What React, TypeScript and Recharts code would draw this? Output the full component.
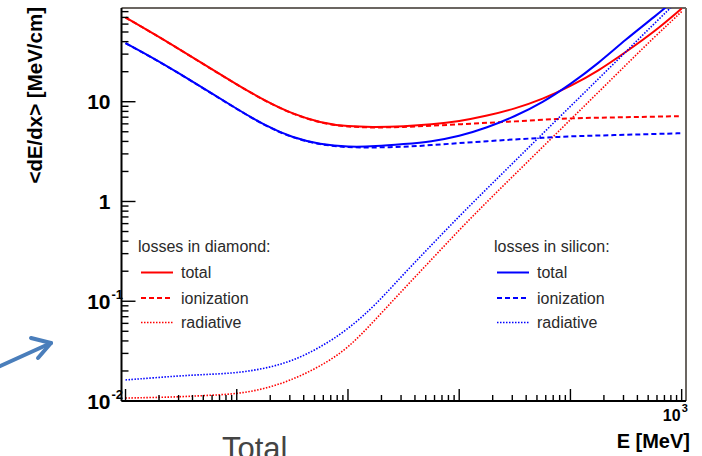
import React from 'react';
import { LineChart, Line, XAxis, YAxis, ReferenceLine } from 'recharts';

const FONT = '"Liberation Sans", Arial, Helvetica, sans-serif';

// Electron energy [MeV]
const energies = [0.01, 0.0178, 0.0316, 0.0562, 0.1, 0.178, 0.316, 0.562, 1, 1.78, 3.16, 5.62, 10, 17.8, 31.6, 56.2, 100, 178, 316, 562, 1000];

// <dE/dx> [MeV/cm]
const diamondTotal = [69.9, 48.3, 32.8, 22.1, 14.9, 10.26, 7.55, 6.15, 5.62, 5.56, 5.67, 5.91, 6.35, 7.22, 8.5, 10.6, 14.25, 20.3, 31.6, 49.7, 86];
const diamondIonization = [69.8, 48.2, 32.7, 22.0, 14.85, 10.22, 7.52, 6.12, 5.58, 5.5, 5.57, 5.75, 5.94, 6.14, 6.35, 6.59, 6.84, 6.91, 7.0, 7.08, 7.17];
const diamondRadiative = [0.0107, 0.01084, 0.01102, 0.0114, 0.01176, 0.0132, 0.0163, 0.0222, 0.0335, 0.0662, 0.1323, 0.2607, 0.519, 0.995, 1.87, 3.51, 6.61, 12.43, 23.4, 44.0, 80];
const siliconTotal = [38.7, 27.4, 18.75, 12.6, 8.49, 5.79, 4.36, 3.74, 3.51, 3.57, 3.76, 3.98, 4.5, 5.49, 7.12, 9.82, 14.96, 24.2, 42.4, 70, 120];
const siliconIonization = [38.6, 27.3, 18.7, 12.55, 8.46, 5.77, 4.34, 3.71, 3.47, 3.48, 3.52, 3.67, 3.85, 4.02, 4.19, 4.35, 4.51, 4.58, 4.66, 4.75, 4.83];
const siliconRadiative = [0.01626, 0.01707, 0.01792, 0.01851, 0.0191, 0.02107, 0.0251, 0.0343, 0.0522, 0.0922, 0.1873, 0.3646, 0.712, 1.348, 2.535, 4.78, 8.99, 16.9, 31.8, 60.1, 112];

const X_DOMAIN: [number, number] = [0.0092, 1094];
const Y_DOMAIN: [number, number] = [0.01, 87];

const xDecades = [0.01, 0.1, 1, 10, 100];
const yDecades = [0.01, 0.1, 1, 10];
const minorMultipliers = [2, 3, 4, 5, 6, 7, 8, 9];

const xLabelValues = [1000];
const xLabelBase = ['10'];
const xLabelExp = ['3'];

const yLabelValues = [0.01, 0.1, 1, 10];
const yLabelBase = ['10', '10', '1', '10'];
const yLabelExp = ['-2', '-1', '', ''];

const legendGroups = ['losses in diamond:', 'losses in silicon:'];
const legendEntries = ['total', 'ionization', 'radiative'];

const RED = '#ff0000';
const BLUE = '#0000ff';

const series = [
  { key: 'dTot', name: 'diamond total', values: diamondTotal, color: RED, dash: undefined as string | undefined, width: 2 },
  { key: 'dIon', name: 'diamond ionization', values: diamondIonization, color: RED, dash: '5 3', width: 2 },
  { key: 'dRad', name: 'diamond radiative', values: diamondRadiative, color: RED, dash: '1.5 1.5', width: 1.6 },
  { key: 'sTot', name: 'silicon total', values: siliconTotal, color: BLUE, dash: undefined as string | undefined, width: 2 },
  { key: 'sIon', name: 'silicon ionization', values: siliconIonization, color: BLUE, dash: '5 3', width: 2 },
  { key: 'sRad', name: 'silicon radiative', values: siliconRadiative, color: BLUE, dash: '1.5 1.5', width: 1.6 },
];

const data = energies.map((E, i) => {
  const row: Record<string, number> = { E };
  series.forEach((s) => {
    row[s.key] = s.values[i];
  });
  return row;
});

const buildTicks = (decades: number[], last: number[]) => {
  const out: number[] = [];
  decades.forEach((d) => {
    out.push(d);
    minorMultipliers.forEach((m) => {
      out.push(+(d * m).toPrecision(6));
    });
  });
  last.forEach((v) => out.push(v));
  return out;
};

const xTicks = buildTicks(xDecades, [1000]);
const yTicks = buildTicks(yDecades, []).filter((v) => v <= Y_DOMAIN[1]);

const isMajor = (v: number) => {
  const l = Math.log10(v);
  return Math.abs(l - Math.round(l)) < 1e-6;
};

const XTick = (props: any) => {
  const { x, y, payload } = props;
  const v = payload.value;
  const major = isMajor(v);
  const idx = xLabelValues.indexOf(v);
  return (
    <g>
      <line x1={x} x2={x} y1={y} y2={y - (major ? 12 : 6)} stroke="#000" strokeWidth={1.4} />
      {idx >= 0 && (
        <g fontFamily={FONT} fontWeight="bold" fill="#000">
          <text x={x - 1} y={y + 20} textAnchor="end" fontSize={16}>
            {xLabelBase[idx]}
          </text>
          <text x={x} y={y + 11} textAnchor="start" fontSize={11}>
            {xLabelExp[idx]}
          </text>
        </g>
      )}
    </g>
  );
};

const YTick = (props: any) => {
  const { x, y, payload } = props;
  const v = payload.value;
  const major = isMajor(v);
  const idx = yLabelValues.findIndex((t) => Math.abs(t - v) < 1e-9);
  return (
    <g>
      <line x1={x} x2={x + (major ? 14 : 7)} y1={y} y2={y} stroke="#000" strokeWidth={1.4} />
      {idx >= 0 && (
        <g fontFamily={FONT} fontWeight="bold" fill="#000">
          <text x={x - 11} y={y + 7.5} textAnchor="end" fontSize={21}>
            {yLabelBase[idx]}
          </text>
          {yLabelExp[idx] && (
            <text x={x - 10} y={y - 2} textAnchor="start" fontSize={13}>
              {yLabelExp[idx]}
            </text>
          )}
        </g>
      )}
    </g>
  );
};

const LegendBlock = ({ x, color, group }: { x: number; color: string; group: string }) => {
  const dashes = [undefined, '5 3', '1.5 1.5'];
  const widths = [2, 2, 1.6];
  const rowY = [272.5, 298, 322.5];
  return (
    <g fontFamily={FONT} fontSize={16} fill="#2a2a2a">
      <text x={x} y={252}>{group}</text>
      {legendEntries.map((label, i) => (
        <g key={label}>
          <line x1={x + 3} x2={x + 35} y1={rowY[i]} y2={rowY[i]} stroke={color} strokeWidth={widths[i]} strokeDasharray={dashes[i]} />
          <text x={x + 43} y={rowY[i] + 5.5}>{label}</text>
        </g>
      ))}
    </g>
  );
};

export default function App() {
  return (
    <div style={{ position: 'absolute', left: 0, top: 0, width: 702, height: 456, background: '#fff', overflow: 'hidden' }}>
      <LineChart width={702} height={456} data={data} margin={{ top: 8, right: 16, bottom: 0, left: 0 }}>
        <XAxis
          dataKey="E"
          type="number"
          scale="log"
          domain={X_DOMAIN}
          allowDataOverflow
          ticks={xTicks}
          interval={0}
          tick={<XTick />}
          tickLine={false}
          tickSize={0}
          tickMargin={0}
          height={55}
          axisLine={{ stroke: '#000', strokeWidth: 2 }}
        />
        <YAxis
          type="number"
          scale="log"
          domain={Y_DOMAIN}
          allowDataOverflow
          ticks={yTicks}
          interval={0}
          tick={<YTick />}
          tickLine={false}
          tickSize={0}
          tickMargin={0}
          width={121.5}
          axisLine={{ stroke: '#000', strokeWidth: 2 }}
        />
        <ReferenceLine y={Y_DOMAIN[1]} stroke="#6b6661" strokeWidth={2} />
        <ReferenceLine x={X_DOMAIN[1]} stroke="#6b6661" strokeWidth={2} />
        {series.map((s) => (
          <Line
            key={s.key}
            dataKey={s.key}
            name={s.name}
            type="basis"
            stroke={s.color}
            strokeWidth={s.width}
            strokeDasharray={s.dash}
            dot={false}
            activeDot={false}
            isAnimationActive={false}
          />
        ))}
      </LineChart>
      <svg width={702} height={456} style={{ position: 'absolute', left: 0, top: 0, pointerEvents: 'none' }}>
        <text
          transform="translate(42,7) rotate(-90)"
          textAnchor="end"
          fontFamily={FONT}
          fontWeight="bold"
          fontSize={20.5}
          fill="#000"
        >
          {'<dE/dx> [MeV/cm]'}
        </text>
        <text x={690} y={448} textAnchor="end" fontFamily={FONT} fontWeight="bold" fontSize={20}>
          E [MeV]
        </text>
        <LegendBlock x={138} color={RED} group={legendGroups[0]} />
        <LegendBlock x={494} color={BLUE} group={legendGroups[1]} />
        <text x={222} y={459} fontFamily={FONT} fontSize={31} fill="#444">Total</text>
        <g stroke="#4a7ebb" strokeWidth={4} fill="none" strokeLinecap="round" strokeLinejoin="round">
          <line x1={-2} y1={367} x2={51} y2={343} />
          <polyline points="31,338 51,343 38,358" />
        </g>
      </svg>
    </div>
  );
}
